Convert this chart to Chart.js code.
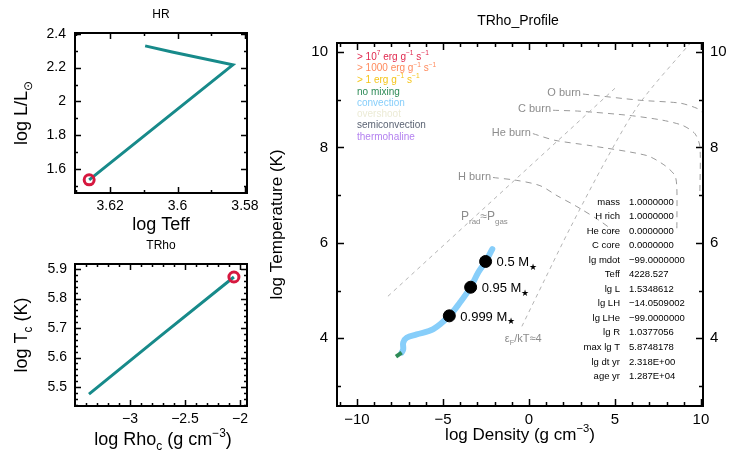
<!DOCTYPE html>
<html><head><meta charset="utf-8">
<script src="https://cdn.jsdelivr.net/npm/chart.js@4/dist/chart.umd.min.js"></script>
<style>
html,body{margin:0;padding:0;background:#fff;}
#wrap{position:relative;width:733px;height:454px;overflow:hidden;background:#fff}
canvas{position:absolute;left:0;top:0}
</style></head><body>
<div id="wrap">
<canvas id="hr" width="733" height="454"></canvas>
<canvas id="trho" width="733" height="454"></canvas>
<canvas id="prof" width="733" height="454"></canvas>
</div>
<script>
// ---------------- data ----------------
const hrLogTeff = [3.6096, 3.6016, 3.5836, 3.6262];
const hrLogL    = [2.329, 2.293, 2.2166, 1.536];
const hrNowTeff = [3.6262];
const hrNowL    = [1.536];

const tcLogRho = [-3.373, -2.727, -2.055];
const tcLogT   = [5.476, 5.672, 5.873];
const tcNowRho = [-2.055];
const tcNowT   = [5.873];

const noMixRho = [-7.73, -7.40];
const noMixT   = [3.615, 3.70];
const convRho = [-7.40, -7.31, -7.31, -7.11, -6.53, -5.56, -4.63, -4.01, -3.39, -2.95, -2.52, -2.13];
const convT   = [3.70, 3.77, 3.91, 4.01, 4.08, 4.19, 4.47, 4.75, 5.07, 5.38, 5.61, 5.87];
const markRho = [-2.52, -3.39, -4.63];
const markT   = [5.61, 5.07, 4.47];
const markLabels = ['0.5 M', '0.95 M', '0.999 M'];

const pradRho = [-8.20, 5.00];
const pradT   = [4.88, 9.24];
const degRho = [-0.41, 0.93, 2.38, 4.53, 6.45, 9.48];
const degT   = [4.25, 5.24, 6.30, 7.77, 8.93, 10.23];
const hBurnRho = [-2.09, -0.70, 0.64, 1.63, 2.79, 4.13, 5.00];
const hBurnT   = [7.37, 7.31, 7.20, 6.99, 6.76, 6.46, 6.23];
const heBurnRho = [0.23, 1.51, 3.55, 6.86, 7.91, 8.49, 8.60, 8.60];
const heBurnT   = [8.29, 8.15, 8.04, 7.83, 7.62, 7.41, 7.14, 6.25];
const cBurnRho = [1.40, 2.97, 5.87, 7.79, 8.95, 9.65, 9.94, 9.94];
const cBurnT   = [8.78, 8.76, 8.67, 8.57, 8.46, 8.29, 8.02, 7.07];
const oBurnRho = [3.14, 6.45, 8.78, 9.77, 10.12];
const oBurnT   = [9.12, 8.99, 8.93, 8.82, 8.72];
const burnNames = ['H burn', 'He burn', 'C burn', 'O burn'];

const infoLabels = ['mass','H rich','He core','C core','lg mdot','Teff','lg L','lg LH','lg LHe','lg R','max lg T','lg dt yr','age yr'];
const infoValues = ['1.0000000','1.0000000','0.0000000','0.0000000','\u221299.0000000','4228.527','1.5348612','\u221214.0509002','\u221299.0000000','1.0377056','5.8748178','2.318E+00','1.287E+04'];

const legendColors = ['#e0284e','#ff8a5c','#f5c518','#2e8b57','#87cefa','#ecebd6','#5c6474','#b482f0'];

// tick values
const hrXMajor = [3.62, 3.60, 3.58], hrXMinor = [3.63, 3.61, 3.59];
const hrYMajor = [1.6, 1.8, 2.0, 2.2, 2.4], hrYMinor = [1.5, 1.7, 1.9, 2.1, 2.3];
const trXMajor = [-3, -2.5, -2];
const trXMinor = [-3.4,-3.3,-3.2,-3.1,-2.9,-2.8,-2.7,-2.6,-2.4,-2.3,-2.2,-2.1];
const trYMajor = [5.5, 5.6, 5.7, 5.8, 5.9];
const trYMinor = [5.44,5.46,5.48,5.52,5.54,5.56,5.58,5.62,5.64,5.66,5.68,5.72,5.74,5.76,5.78,5.82,5.84,5.86,5.88];
const prXMajor = [-10, -5, 0, 5, 10];
const prXMinor = [-11,-9,-8,-7,-6,-4,-3,-2,-1,1,2,3,4,6,7,8,9];
const prYMajor = [4, 6, 8, 10], prYMinor = [3, 5, 7, 9];

// ---------------- helpers ----------------
const FONT = '"Liberation Sans", Arial, sans-serif';
Chart.defaults.font.family = FONT;
Chart.defaults.color = '#000';
const pts = (xs, ys) => xs.map((x, i) => ({x: x, y: ys[i]}));
const minus = s => String(s).replace('-', '\u2212');

function drawRich(ctx, parts, x, y, size, color, align, rot) {
  ctx.save();
  ctx.translate(x, y);
  if (rot) ctx.rotate(rot);
  ctx.fillStyle = color;
  ctx.textBaseline = 'alphabetic';
  ctx.textAlign = 'left';
  let w = 0;
  const m = parts.map(p => {
    const t = p[0], mode = p[1] || 0;
    const s = mode ? size * 0.66 : size;
    ctx.font = s + 'px ' + FONT;
    const tw = ctx.measureText(t).width;
    w += tw;
    return [t, mode, s, tw];
  });
  let cx = align === 'center' ? -w / 2 : (align === 'right' ? -w : 0);
  m.forEach(([t, mode, s, tw]) => {
    ctx.font = s + 'px ' + FONT;
    const dy = mode === 1 ? -size * 0.45 : (mode === -1 ? size * 0.28 : 0);
    ctx.fillText(t, cx, dy);
    cx += tw;
  });
  ctx.restore();
}

const framePlugin = {
  id: 'frame',
  afterDraw(chart, args, o) {
    const {ctx, chartArea: a, scales} = chart;
    const xs = scales.x, ys = scales.y;
    ctx.save();
    ctx.strokeStyle = '#000';
    ctx.lineWidth = o.tickWidth;
    const tx = (vals, len) => vals.forEach(v => {
      const p = Math.round(xs.getPixelForValue(v)) + 0.5;
      if (p < a.left - 1 || p > a.right + 1) return;
      ctx.beginPath();
      ctx.moveTo(p, a.bottom); ctx.lineTo(p, a.bottom - len);
      ctx.moveTo(p, a.top); ctx.lineTo(p, a.top + len);
      ctx.stroke();
    });
    const ty = (vals, len) => vals.forEach(v => {
      const p = Math.round(ys.getPixelForValue(v)) + 0.5;
      if (p < a.top - 1 || p > a.bottom + 1) return;
      ctx.beginPath();
      ctx.moveTo(a.left, p); ctx.lineTo(a.left + len, p);
      ctx.moveTo(a.right, p); ctx.lineTo(a.right - len, p);
      ctx.stroke();
    });
    tx(o.xMajor, o.major); tx(o.xMinor, o.minor);
    ty(o.yMajor, o.major); ty(o.yMinor, o.minor);
    ctx.lineWidth = o.frameWidth;
    ctx.strokeRect(a.left, a.top, a.width, a.height);
    if (o.text) o.text(chart, ctx);
    ctx.restore();
  }
};
Chart.register(framePlugin);

function makeOptions(c) {
  const tickFont = {size: c.tickSize, family: FONT};
  const scales = {
    x: {
      type: 'linear', min: c.xMin, max: c.xMax, reverse: !!c.reverse,
      afterFit: s => { s.height = c.xH; },
      afterBuildTicks: s => { s.ticks = c.xMajor.map(v => ({value: v})); },
      grid: {display: false, drawTicks: false}, border: {display: false},
      ticks: {padding: c.xPad, font: tickFont, color: '#000', autoSkip: false, maxRotation: 0, callback: v => minus(+(+v).toFixed(3))}
    },
    y: {
      type: 'linear', min: c.yMin, max: c.yMax, position: 'left',
      afterFit: s => { s.width = c.yW; },
      afterBuildTicks: s => { s.ticks = c.yMajor.map(v => ({value: v})); },
      grid: {display: false, drawTicks: false}, border: {display: false},
      ticks: {padding: c.yPad, font: tickFont, color: '#000', autoSkip: false, callback: v => minus(+(+v).toFixed(3))}
    }
  };
  if (c.y2W) {
    scales.y2 = {
      type: 'linear', min: c.yMin, max: c.yMax, position: 'right',
      afterFit: s => { s.width = c.y2W; },
      afterBuildTicks: s => { s.ticks = c.yMajor.map(v => ({value: v})); },
      grid: {display: false, drawTicks: false}, border: {display: false},
      ticks: {padding: c.yPad2, font: tickFont, color: '#000', autoSkip: false, callback: v => minus(+(+v).toFixed(3))}
    };
  }
  return {
    responsive: false, animation: false, devicePixelRatio: 1, events: [],
    layout: {padding: {left: c.l - c.yW, top: c.t, right: 733 - c.r - (c.y2W || 0), bottom: 454 - c.b - c.xH}},
    plugins: {
      legend: {display: false}, tooltip: {enabled: false}, title: {display: false},
      frame: {xMajor: c.xMajor, xMinor: c.xMinor, yMajor: c.yMajor, yMinor: c.yMinor,
              major: c.majorLen, minor: c.minorLen, tickWidth: 1.5, frameWidth: 2, text: c.text}
    },
    scales: scales
  };
}

// ---------------- HR ----------------
new Chart(document.getElementById('hr'), {
  type: 'line',
  data: {datasets: [
    {data: pts(hrNowTeff, hrNowL), showLine: false, pointRadius: 5, pointBorderWidth: 3,
     pointBorderColor: '#d6183f', pointBackgroundColor: 'rgba(0,0,0,0)'},
    {data: pts(hrLogTeff, hrLogL), borderColor: '#178a8a', borderWidth: 3, pointRadius: 0, tension: 0}
  ]},
  options: makeOptions({
    l: 75, r: 247, t: 33, b: 193, yW: 50, xH: 30,
    xMin: 3.5794, xMax: 3.6304, reverse: true, yMin: 1.458, yMax: 2.405,
    xMajor: hrXMajor, xMinor: hrXMinor, yMajor: hrYMajor, yMinor: hrYMinor,
    tickSize: 14, xPad: 5, yPad: 9, majorLen: 6, minorLen: 3,
    text: (chart, ctx) => {
      const a = chart.chartArea, cx = (a.left + a.right) / 2;
      drawRich(ctx, [['HR']], cx, 18, 12, '#000', 'center');
      drawRich(ctx, [['log Teff']], cx, 230, 18, '#000', 'center');
      drawRich(ctx, [['log L/L'], ['\u2299', -1]], 27, (a.top + a.bottom) / 2, 18, '#000', 'center', -Math.PI / 2);
    }
  })
});

// ---------------- TRho (center) ----------------
new Chart(document.getElementById('trho'), {
  type: 'line',
  data: {datasets: [
    {data: pts(tcNowRho, tcNowT), showLine: false, pointRadius: 5, pointBorderWidth: 3,
     pointBorderColor: '#d6183f', pointBackgroundColor: 'rgba(0,0,0,0)'},
    {data: pts(tcLogRho, tcLogT), borderColor: '#178a8a', borderWidth: 3, pointRadius: 0, tension: 0}
  ]},
  options: makeOptions({
    l: 75, r: 247, t: 264, b: 406, yW: 50, xH: 30,
    xMin: -3.5, xMax: -1.936, yMin: 5.436, yMax: 5.917,
    xMajor: trXMajor, xMinor: trXMinor, yMajor: trYMajor, yMinor: trYMinor,
    tickSize: 14, xPad: 5, yPad: 8, majorLen: 6, minorLen: 3,
    text: (chart, ctx) => {
      const a = chart.chartArea, cx = (a.left + a.right) / 2;
      drawRich(ctx, [['TRho']], cx, 249, 12, '#000', 'center');
      drawRich(ctx, [['log Rho'], ['c', -1], [' (g cm'], ['\u22123', 1], [')']], cx + 2, 445, 18, '#000', 'center');
      drawRich(ctx, [['log T'], ['c', -1], [' (K)']], 27, (a.top + a.bottom) / 2, 18, '#000', 'center', -Math.PI / 2);
    }
  })
});

// ---------------- TRho profile ----------------
const lineDs = (xs, ys, color, dash, width, tension) => ({
  data: pts(xs, ys), borderColor: color, borderWidth: width, borderDash: dash, pointRadius: 0, tension: tension
});
new Chart(document.getElementById('prof'), {
  type: 'line',
  data: {datasets: [
    {data: pts(markRho, markT), showLine: false, pointRadius: 6, pointBackgroundColor: '#000', pointBorderColor: '#000', pointBorderWidth: 1},
    lineDs(noMixRho, noMixT, '#2e8b57', [], 4, 0),
    Object.assign(lineDs(convRho, convT, '#87cefa', [], 6, 0.35), {borderCapStyle: 'round', borderJoinStyle: 'round'}),
    lineDs(pradRho, pradT, '#b4b4b4', [4, 4], 1, 0),
    lineDs(degRho, degT, '#b4b4b4', [4, 4], 1, 0.3),
    lineDs(hBurnRho, hBurnT, '#9a9a9a', [6, 5], 1, 0.3),
    lineDs(heBurnRho, heBurnT, '#9a9a9a', [6, 5], 1, 0.25),
    lineDs(cBurnRho, cBurnT, '#9a9a9a', [6, 5], 1, 0.25),
    lineDs(oBurnRho, oBurnT, '#9a9a9a', [6, 5], 1, 0.25)
  ]},
  options: makeOptions({
    l: 337, r: 703, t: 43, b: 406, yW: 40, y2W: 25, xH: 30,
    xMin: -11.16, xMax: 10.12, yMin: 2.58, yMax: 10.19,
    xMajor: prXMajor, xMinor: prXMinor, yMajor: prYMajor, yMinor: prYMinor,
    tickSize: 15, xPad: 5, yPad: 9, yPad2: 7, majorLen: 7, minorLen: 4,
    text: (chart, ctx) => {
      const a = chart.chartArea, cx = (a.left + a.right) / 2;
      const X = v => chart.scales.x.getPixelForValue(v), Y = v => chart.scales.y.getPixelForValue(v);
      drawRich(ctx, [['TRho_Profile']], cx - 2, 25, 14, '#000', 'center');
      drawRich(ctx, [['log Density (g cm'], ['\u22123', 1], [')']], cx, 440, 17, '#000', 'center');
      drawRich(ctx, [['log Temperature (K)']], 282, (a.top + a.bottom) / 2, 17, '#000', 'center', -Math.PI / 2);
      // legend
      const leg = [
        [['> 10'], ['7', 1], [' erg g'], ['\u22121', 1], [' s'], ['\u22121', 1]],
        [['> 1000 erg g'], ['\u22121', 1], [' s'], ['\u22121', 1]],
        [['> 1 erg g'], ['\u22121', 1], [' s'], ['\u22121', 1]],
        [['no mixing']], [['convection']], [['overshoot']], [['semiconvection']], [['thermohaline']]
      ];
      const legY = [59.5, 71, 82.5, 95, 105.5, 116.5, 127.5, 139.5];
      leg.forEach((p, i) => drawRich(ctx, p, a.left + 20, legY[i], 10, legendColors[i], 'left'));
      // burn labels
      const starts = [[hBurnRho[0], hBurnT[0]], [heBurnRho[0], heBurnT[0]], [cBurnRho[0], cBurnT[0]], [oBurnRho[0], oBurnT[0]]];
      starts.forEach((s, i) => drawRich(ctx, [[burnNames[i]]], X(s[0]) - 2, Y(s[1]) + 2, 11, '#8c8c8c', 'right'));
      drawRich(ctx, [['P'], ['rad', -1], ['\u2248P'], ['gas', -1]], X(-3.95), Y(6.47), 12, '#8c8c8c', 'left');
      drawRich(ctx, [['\u03B5'], ['F', -1], ['/kT\u22484']], X(-1.40), Y(3.93), 11, '#8c8c8c', 'left');
      // marker labels
      markRho.forEach((r, i) => drawRich(ctx, [[markLabels[i]], ['\u2605', -1]], X(r) + 11, Y(markT[i]) + 5, 13, '#000', 'left'));
      // info box
      infoLabels.forEach((t, i) => {
        const yy = a.top + 161.5 + i * 14.55;
        drawRich(ctx, [[t]], a.right - 83, yy, 9.5, '#000', 'right');
        drawRich(ctx, [[infoValues[i]]], a.right - 74, yy, 9.5, '#000', 'left');
      });
    }
  })
});
</script>
</body></html>
